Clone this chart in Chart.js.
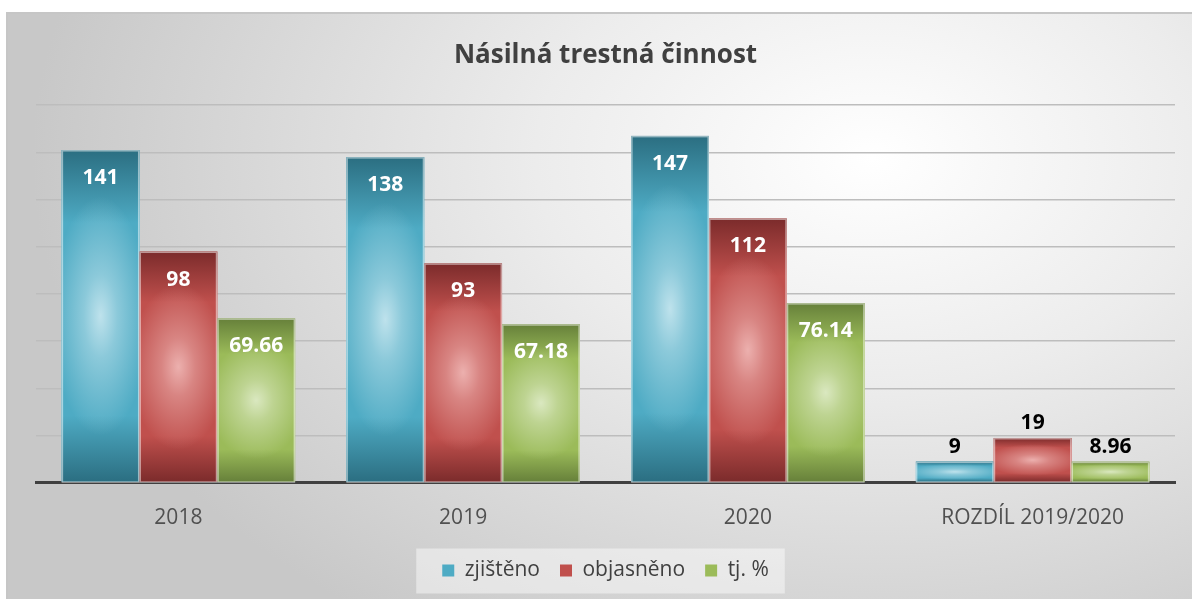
<!DOCTYPE html>
<html>
<head>
<meta charset="utf-8">
<script src="https://cdn.jsdelivr.net/npm/chart.js@4.4.1/dist/chart.umd.min.js"></script>
<style>
  html, body { margin: 0; padding: 0; width: 1192px; height: 599px; overflow: hidden; background: #fff; }
  #frame {
    position: absolute; left: 6px; top: 12px; width: 1200px; height: 600px;
    border: 2px solid #c6c6c6;
    background: radial-gradient(ellipse 70% 95% at 72% 24%, #ffffff 0%, #ececec 40%, #c8c8c8 100%);
  }
  #wrap { position: absolute; left: 0; top: 0; width: 1192px; height: 599px; }
</style>
</head>
<body>
<div id="frame"></div>
<div id="wrap"><canvas id="chart"></canvas></div>
<script>
// data
const categories = ['2018', '2019', '2020', 'ROZDÍL 2019/2020'];
const zjisteno = [141, 138, 147, 9];
const objasneno = [98, 93, 112, 19];
const tjProcent = [69.66, 67.18, 76.14, 8.96];
const seriesNames = ['zjištěno', 'objasněno', 'tj. %'];
const yTicks = { min: 0, max: 160, step: 20 };

// colours: dark edge, mid body, light centre (rgb)
const palette = [
  { dark: '#2b6e81', mid: '#4eabc4', light: [190, 226, 236] },
  { dark: '#7b2b2b', mid: '#c0504d', light: [236, 176, 174] },
  { dark: '#66803a', mid: '#9bbb59', light: [218, 232, 192] }
];

const fontFamily = '"Open Sans", sans-serif';

// bar shading: vertical dark-mid-dark plus a soft highlight in the middle
const barShading = {
  id: 'barShading',
  afterDatasetsDraw(chart) {
    const ctx = chart.ctx;
    chart.data.datasets.forEach((ds, di) => {
      const meta = chart.getDatasetMeta(di);
      const col = palette[di];
      meta.data.forEach(bar => {
        const w = bar.width;
        const top = Math.min(bar.y, bar.base);
        const h = Math.abs(bar.base - bar.y);
        const left = bar.x - w / 2;

        const lin = ctx.createLinearGradient(0, top, 0, top + h);
        lin.addColorStop(0, col.dark);
        lin.addColorStop(0.22, col.mid);
        lin.addColorStop(0.8, col.mid);
        lin.addColorStop(1, col.dark);
        ctx.save();
        ctx.fillStyle = lin;
        ctx.fillRect(left, top, w, h);

        const rx = w * 0.62;
        const ry = Math.max(h * 0.36, 8);
        ctx.beginPath();
        ctx.rect(left, top, w, h);
        ctx.clip();
        ctx.translate(bar.x, top + h / 2);
        ctx.scale(1, ry / rx);
        const [r, g, b] = col.light;
        const rad = ctx.createRadialGradient(0, 0, 0, 0, 0, rx);
        rad.addColorStop(0, `rgba(${r},${g},${b},1)`);
        rad.addColorStop(0.35, `rgba(${r},${g},${b},0.55)`);
        rad.addColorStop(1, `rgba(${r},${g},${b},0)`);
        ctx.fillStyle = rad;
        ctx.fillRect(-w / 2, -rx, w, rx * 2);
        ctx.restore();

        ctx.save();
        ctx.strokeStyle = 'rgba(255,255,255,0.5)';
        ctx.lineWidth = 1.5;
        ctx.strokeRect(left + 0.75, top + 0.75, w - 1.5, h - 0.75);
        ctx.restore();
      });
    });
  }
};

// value labels
const valueLabels = {
  id: 'valueLabels',
  afterDatasetsDraw(chart) {
    const ctx = chart.ctx;
    ctx.save();
    ctx.font = 'bold 21px ' + fontFamily;
    ctx.textAlign = 'center';
    ctx.textBaseline = 'middle';
    chart.data.datasets.forEach((ds, di) => {
      const meta = chart.getDatasetMeta(di);
      meta.data.forEach((bar, i) => {
        const txt = String(ds.data[i]);
        if (i === categories.length - 1) {
          ctx.fillStyle = '#000000';
          ctx.fillText(txt, bar.x, bar.y - 15);
        } else {
          ctx.fillStyle = '#ffffff';
          ctx.fillText(txt, bar.x, bar.y + 28);
        }
      });
    });
    ctx.restore();
  }
};

// light box behind the legend
const legendBox = {
  id: 'legendBox',
  beforeDraw(chart) {
    const boxes = chart.legend && chart.legend.legendHitBoxes;
    if (!boxes || !boxes.length) return;
    let l = Infinity, r = -Infinity, cy = 0;
    boxes.forEach(b => { l = Math.min(l, b.left); r = Math.max(r, b.left + b.width); cy = b.top + b.height / 2; });
    const ctx = chart.ctx;
    ctx.save();
    ctx.fillStyle = 'rgba(255,255,255,0.45)';
    ctx.fillRect(l - 26, cy - 22, r - l + 42, 45);
    ctx.restore();
  }
};

new Chart(document.getElementById('chart'), {
  type: 'bar',
  data: {
    labels: categories,
    datasets: [zjisteno, objasneno, tjProcent].map((d, i) => ({
      label: seriesNames[i],
      data: d,
      backgroundColor: palette[i].mid,
      borderWidth: 0,
      categoryPercentage: 0.82,
      barPercentage: 1.0
    }))
  },
  options: {
    responsive: true,
    maintainAspectRatio: false,
    animation: false,
    layout: { padding: { left: 36, right: 17, top: 0, bottom: 8 } },
    plugins: {
      title: {
        display: true,
        text: 'Násilná trestná činnost',
        color: '#404040',
        font: { family: fontFamily, size: 26, weight: 'bold' },
        padding: { top: 40, bottom: 34 }
      },
      legend: {
        position: 'bottom',
        labels: {
          color: '#404040',
          font: { family: fontFamily, size: 21 },
          boxWidth: 12,
          boxHeight: 12,
          padding: 20
        }
      },
      tooltip: { enabled: false }
    },
    scales: {
      x: {
        grid: { display: false, drawTicks: false },
        border: { display: true, color: '#404040', width: 3 },
        ticks: { color: '#505050', font: { family: fontFamily, size: 21 }, padding: 23 },
        afterFit(scale) { scale.height -= 14; }
      },
      y: {
        min: yTicks.min,
        max: yTicks.max,
        grid: { color: '#bdbdbd', lineWidth: 1.5, drawTicks: false },
        border: { display: false },
        ticks: { display: false, stepSize: yTicks.step }
      }
    }
  },
  plugins: [legendBox, barShading, valueLabels]
});
</script>
</body>
</html>
